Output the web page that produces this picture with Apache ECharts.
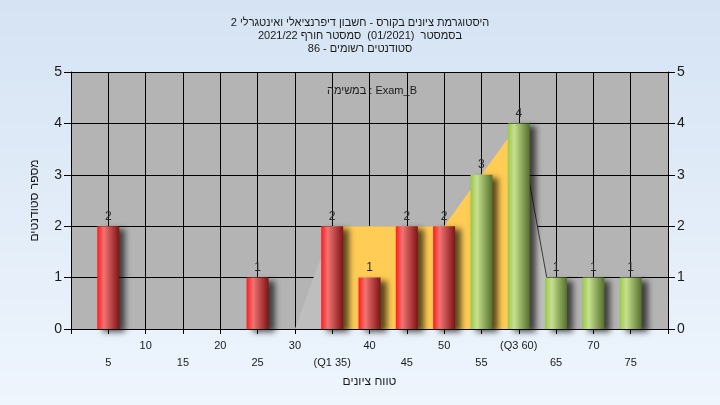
<!DOCTYPE html>
<html>
<head>
<meta charset="utf-8">
<script src="https://cdn.jsdelivr.net/npm/echarts@6/dist/echarts.min.js"></script>
<style>
html,body{margin:0;padding:0;}
#c{width:720px;height:405px;}
</style>
</head>
<body>
<div id="c"></div>
<script>
// ---- data ----
var scores = [5, 10, 15, 20, 25, 30, 35, 40, 45, 50, 55, 60, 65, 70, 75];
var counts = [2, 0, 0, 0, 1, 0, 2, 1, 2, 2, 3, 4, 1, 1, 1];
var xTickLabels = ['5', '10', '15', '20', '25', '30', '(Q1 35)', '40', '45', '50', '55', '(Q3 60)', '65', '70', '75'];
var passScore = 55;
var distX = [30, 35, 40, 45, 50, 55, 60, 65];
var distY = [0, 2, 2, 2, 2, 3, 4, 0];
var iqrX = [35, 40, 45, 50, 55, 60];
var iqrY = [2, 2, 2, 2, 3, 4];
var tailX = [60, 65];
var tailY = [4, 0];
var titleLines = [
  'היסטוגרמת ציונים בקורס - חשבון דיפרנציאלי ואינטגרלי 2',
  'בסמסטר  (01/2021)  סמסטר חורף 2021/22',
  'סטודנטים רשומים - 86'
];
var taskText = 'במשימה : Exam_B';
var xName = 'טווח ציונים';
var yName = 'מספר סטודנטים';

var FONT = "'Liberation Sans Narrow', 'Liberation Sans', Arial, sans-serif";

function pairs(xs, ys) { return xs.map(function (x, i) { return [x, ys[i]]; }); }

var redGrad = new echarts.graphic.LinearGradient(0, 0, 1, 0, [
  { offset: 0, color: '#ff1c1c' },
  { offset: 0.3, color: '#f27373' },
  { offset: 1, color: '#7e1414' }
]);
var greenGrad = new echarts.graphic.LinearGradient(0, 0, 1, 0, [
  { offset: 0, color: '#9cc84a' },
  { offset: 0.3, color: '#c6e08e' },
  { offset: 1, color: '#55702a' }
]);

var barData = [];
scores.forEach(function (s, i) {
  if (counts[i] > 0) {
    barData.push({
      value: [s, counts[i]],
      itemStyle: { color: s < passScore ? redGrad : greenGrad }
    });
  }
});

var chart = echarts.init(document.getElementById('c'), null, { renderer: 'canvas' });
chart.setOption({
  animation: false,
  backgroundColor: new echarts.graphic.LinearGradient(0, 0, 0, 1, [
    { offset: 0, color: '#d5e3f3' },
    { offset: 1, color: '#eef5fd' }
  ]),
  title: [{
    text: titleLines.join('\n'),
    left: 'center',
    top: 11,
    textStyle: { fontSize: 11, fontWeight: 'normal', color: '#1a1a1a', lineHeight: 13, fontFamily: FONT }
  }, {
    text: taskText,
    left: 322,
    top: 80,
    textStyle: { fontSize: 11, fontWeight: 'normal', color: '#1a1a1a', fontFamily: FONT }
  }],
  grid: {
    left: 71, right: 52, top: 72, bottom: 76,
    show: true, backgroundColor: '#b4b4b4', borderWidth: 0
  },
  xAxis: {
    type: 'value', min: 0, max: 80, interval: 5,
    name: xName, nameLocation: 'middle', nameGap: 46,
    nameTextStyle: { fontSize: 12, color: '#1a1a1a', fontFamily: FONT },
    axisLine: { show: true, onZero: false, lineStyle: { color: '#000', width: 1 } },
    axisTick: { show: true, length: 5, lineStyle: { color: '#000' } },
    splitLine: { show: true, lineStyle: { color: '#000', width: 1 } },
    axisLabel: {
      margin: 8, fontSize: 11, color: '#1a1a1a', lineHeight: 17, fontFamily: FONT,
      showMinLabel: true, showMaxLabel: true, hideOverlap: false,
      formatter: function (v) {
        var i = Math.round(v / 5) - 1;
        if (i < 0 || i >= xTickLabels.length) return '';
        return (v % 10 === 0) ? xTickLabels[i] : '\n' + xTickLabels[i];
      }
    }
  },
  yAxis: [{
    type: 'value', min: 0, max: 5, interval: 1, position: 'left',
    name: yName, nameLocation: 'middle', nameGap: 30,
    nameTextStyle: { fontSize: 12, color: '#1a1a1a', fontFamily: FONT },
    axisLine: { show: true, lineStyle: { color: '#000' } },
    axisTick: { show: true, length: 7, lineStyle: { color: '#000' } },
    splitLine: { show: true, lineStyle: { color: '#000', width: 1 } },
    axisLabel: { margin: 9, fontSize: 14, color: '#1a1a1a', fontFamily: 'Liberation Sans, Arial, sans-serif' }
  }, {
    type: 'value', min: 0, max: 5, interval: 1, position: 'right',
    axisLine: { show: true, lineStyle: { color: '#000' } },
    axisTick: { show: true, length: 7, lineStyle: { color: '#000' } },
    splitLine: { show: false },
    axisLabel: { margin: 9, fontSize: 14, color: '#1a1a1a', fontFamily: 'Liberation Sans, Arial, sans-serif' }
  }],
  series: [{
    type: 'line',
    data: pairs(distX, distY),
    showSymbol: false, symbol: 'none',
    lineStyle: { width: 0 },
    areaStyle: { color: '#bebebe', opacity: 1 },
    z: 2, silent: true
  }, {
    type: 'line',
    data: pairs(iqrX, iqrY),
    showSymbol: false, symbol: 'none',
    lineStyle: { width: 0 },
    areaStyle: { color: '#ffcc55', opacity: 1 },
    z: 2, silent: true
  }, {
    type: 'line',
    data: pairs(tailX, tailY),
    showSymbol: false, symbol: 'none',
    lineStyle: { width: 1, color: '#3a3a3a' },
    z: 2, silent: true
  }, {
    type: 'bar',
    data: barData,
    barWidth: 22,
    z: 3,
    itemStyle: {
      shadowColor: 'rgba(0,0,0,0.65)', shadowBlur: 6, shadowOffsetX: 6, shadowOffsetY: 3
    },
    label: {
      show: true, position: 'top', distance: 4, fontSize: 12, color: '#2a2a2a',
      fontFamily: 'Liberation Sans, Arial, sans-serif',
      formatter: function (p) { return p.value[1]; }
    }
  }]
});
</script>
</body>
</html>
